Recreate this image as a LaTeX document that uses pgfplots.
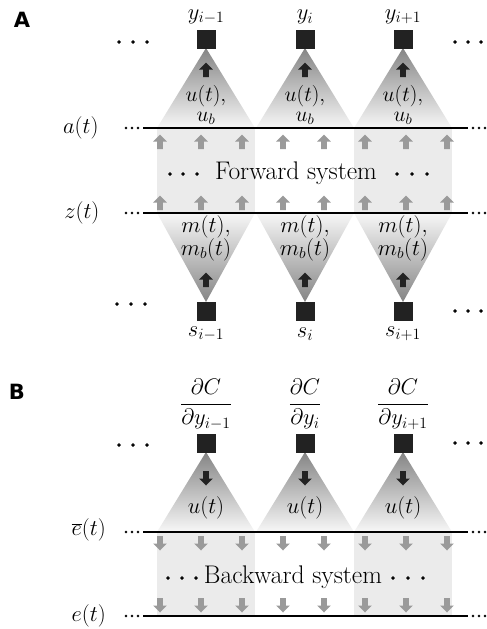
\RequirePackage{fix-cm}
\documentclass[border=0pt]{standalone}
\usepackage{fontspec}
\usepackage{pgfplots}
\pgfplotsset{compat=1.18}
\newfontfamily\panelfont{DejaVu Sans}
\newcommand\mf{\fontsize{22.5}{25}\selectfont}
\newcommand\tf{\fontsize{25.5}{28}\selectfont}
\definecolor{rectgray}{HTML}{EBEBEB}
\definecolor{arrgray}{HTML}{9A9A9A}
\definecolor{sqblack}{HTML}{222222}
\pgfdeclareplotmark{uparr}{%
  \pgfpathmoveto{\pgfpoint{0pt}{7.5pt}}%
  \pgfpathlineto{\pgfpoint{6.8pt}{0.5pt}}%
  \pgfpathlineto{\pgfpoint{2.9pt}{0.5pt}}%
  \pgfpathlineto{\pgfpoint{2.9pt}{-7pt}}%
  \pgfpathlineto{\pgfpoint{-2.9pt}{-7pt}}%
  \pgfpathlineto{\pgfpoint{-2.9pt}{0.5pt}}%
  \pgfpathlineto{\pgfpoint{-6.8pt}{0.5pt}}%
  \pgfpathclose\pgfusepathqfill}
\pgfdeclareplotmark{downarr}{%
  \pgfpathmoveto{\pgfpoint{0pt}{-7.5pt}}%
  \pgfpathlineto{\pgfpoint{6.8pt}{-0.5pt}}%
  \pgfpathlineto{\pgfpoint{2.9pt}{-0.5pt}}%
  \pgfpathlineto{\pgfpoint{2.9pt}{7pt}}%
  \pgfpathlineto{\pgfpoint{-2.9pt}{7pt}}%
  \pgfpathlineto{\pgfpoint{-2.9pt}{-0.5pt}}%
  \pgfpathlineto{\pgfpoint{-6.8pt}{-0.5pt}}%
  \pgfpathclose\pgfusepathqfill}
\begin{document}
\begin{tikzpicture}
\begin{axis}[
  scale only axis, width=487pt, height=629pt,
  xmin=0, xmax=487, ymin=0, ymax=629, y dir=reverse,
  hide axis, clip=false]
\addplot[draw=none] coordinates {(0,0) (487,629)};
% ---------- Panel A ----------
\addplot[fill=rectgray, draw=none] coordinates {(157,128) (255,128) (255,213) (157,213)};
\addplot[fill=rectgray, draw=none] coordinates {(354,128) (452,128) (452,213) (354,213)};
\addplot[draw=none, top color=black!48, bottom color=black!3] coordinates {(157,128) (206,48) (255,128)};
\addplot[draw=none, top color=black!48, bottom color=black!3] coordinates {(256,128) (305,48) (354,128)};
\addplot[draw=none, top color=black!48, bottom color=black!3] coordinates {(354,128) (403,48) (452,128)};
\addplot[draw=none, top color=black!3, bottom color=black!48] coordinates {(157,213) (206,302) (255,213)};
\addplot[draw=none, top color=black!3, bottom color=black!48] coordinates {(256,213) (305,302) (354,213)};
\addplot[draw=none, top color=black!3, bottom color=black!48] coordinates {(354,213) (403,302) (452,213)};
\addplot[black, line width=1.6pt] coordinates {(143,128) (468,128)};
\addplot[black, line width=1.6pt] coordinates {(143,213) (468,213)};
\addplot[only marks, mark=*, mark size=1.1pt, black] coordinates {(126,128) (132,128) (138,128) (473,128) (479,128) (485,128)
  (126,213) (132,213) (138,213) (473,213) (479,213) (485,213)};
\addplot[only marks, mark=*, mark size=1.5pt, black] coordinates {(119,42) (133,42) (147,42) (455,42) (468,42) (481,42)
  (117,304) (131,304) (145,304) (455,311) (468,311) (481,311)
  (170,174) (183,174) (197,174) (397,174) (412,174) (427,174)};
\addplot[only marks, mark=uparr, draw=none, fill=arrgray] coordinates {
  (160,142) (201,142) (242,142) (283,142) (324,142) (365,142) (406,142) (447,142)
  (160,203) (201,203) (242,203) (283,203) (324,203) (365,203) (406,203) (447,203)};
\addplot[only marks, mark=uparr, draw=none, fill=sqblack] coordinates {
  (206,70) (305,70) (403,70) (206,280) (305,280) (403,280)};
\addplot[only marks, mark=square*, mark size=9pt, sqblack] coordinates {
  (206,39) (305,39) (403,39) (206,311) (305,311) (403,311)};
\node[font=\panelfont\bfseries\fontsize{21}{24}\selectfont] at (22,20) {A};
\node[font=\mf] at (206,17) {$y_{i-1}$};
\node[font=\mf] at (305,17) {$y_{i}$};
\node[font=\mf] at (403,17) {$y_{i+1}$};
\node[font=\mf] at (206,334) {$s_{i-1}$};
\node[font=\mf] at (305,334) {$s_{i}$};
\node[font=\mf] at (403,334) {$s_{i+1}$};
\foreach \c in {206,305,403}{
  \edef\temp{\noexpand\node[font=\noexpand\fontsize{21.5}{20.5}\noexpand\selectfont, align=center, inner sep=0pt] at (\c,105) {$u(t),$\\$u_b$};
    \noexpand\node[font=\noexpand\fontsize{22.5}{23}\noexpand\selectfont, align=center, inner sep=0pt] at (\c,238) {$m(t),$\\$m_b(t)$};}
  \temp}
\node[font=\mf, anchor=east] at (102,128) {$a(t)$};
\node[font=\mf, anchor=east] at (103,213) {$z(t)$};
\node[font=\tf] at (296,173) {Forward system};
% ---------- Panel B ----------
\addplot[fill=rectgray, draw=none] coordinates {(157,532) (255,532) (255,616) (157,616)};
\addplot[fill=rectgray, draw=none] coordinates {(354,532) (452,532) (452,616) (354,616)};
\addplot[draw=none, top color=black!48, bottom color=black!3] coordinates {(157,532) (206,452) (255,532)};
\addplot[draw=none, top color=black!48, bottom color=black!3] coordinates {(256,532) (305,452) (354,532)};
\addplot[draw=none, top color=black!48, bottom color=black!3] coordinates {(354,532) (403,452) (452,532)};
\addplot[black, line width=1.6pt] coordinates {(143,532) (468,532)};
\addplot[black, line width=1.6pt] coordinates {(143,616) (468,616)};
\addplot[only marks, mark=*, mark size=1.1pt, black] coordinates {(126,532) (132,532) (138,532) (473,532) (479,532) (485,532)
  (126,616) (132,616) (138,616) (473,616) (479,616) (485,616)};
\addplot[only marks, mark=*, mark size=1.5pt, black] coordinates {(119,445) (133,445) (147,445) (455,443) (468,443) (481,443)
  (168,578) (182,578) (196,578) (393,578) (408,578) (423,578)};
\addplot[only marks, mark=downarr, draw=none, fill=arrgray] coordinates {
  (160,543) (201,543) (242,543) (283,543) (324,543) (365,543) (406,543) (447,543)
  (160,605) (201,605) (242,605) (283,605) (324,605) (365,605) (406,605) (447,605)};
\addplot[only marks, mark=downarr, draw=none, fill=sqblack] coordinates {
  (206,478) (305,478) (403,478)};
\addplot[only marks, mark=square*, mark size=9pt, sqblack] coordinates {
  (206,443) (305,443) (403,443)};
\node[font=\panelfont\bfseries\fontsize{21}{24}\selectfont] at (17,392) {B};
\node[font=\mf, inner sep=0pt] at (206,404) {$\displaystyle\frac{\partial C}{\partial y_{i-1}}$};
\node[font=\mf, inner sep=0pt] at (305,404) {$\displaystyle\frac{\partial C}{\partial y_{i}}$};
\node[font=\mf, inner sep=0pt] at (403,404) {$\displaystyle\frac{\partial C}{\partial y_{i+1}}$};
\node[font=\mf] at (206,508) {$u(t)$};
\node[font=\mf] at (305,508) {$u(t)$};
\node[font=\mf] at (403,508) {$u(t)$};
\node[font=\mf, anchor=east, inner sep=1pt] at (107,530) {$\overline{e}(t)$};
\node[font=\mf, anchor=east, inner sep=1pt] at (107,616) {$e(t)$};
\node[font=\tf] at (293,577) {Backward system};
\end{axis}
\end{tikzpicture}
\end{document}
